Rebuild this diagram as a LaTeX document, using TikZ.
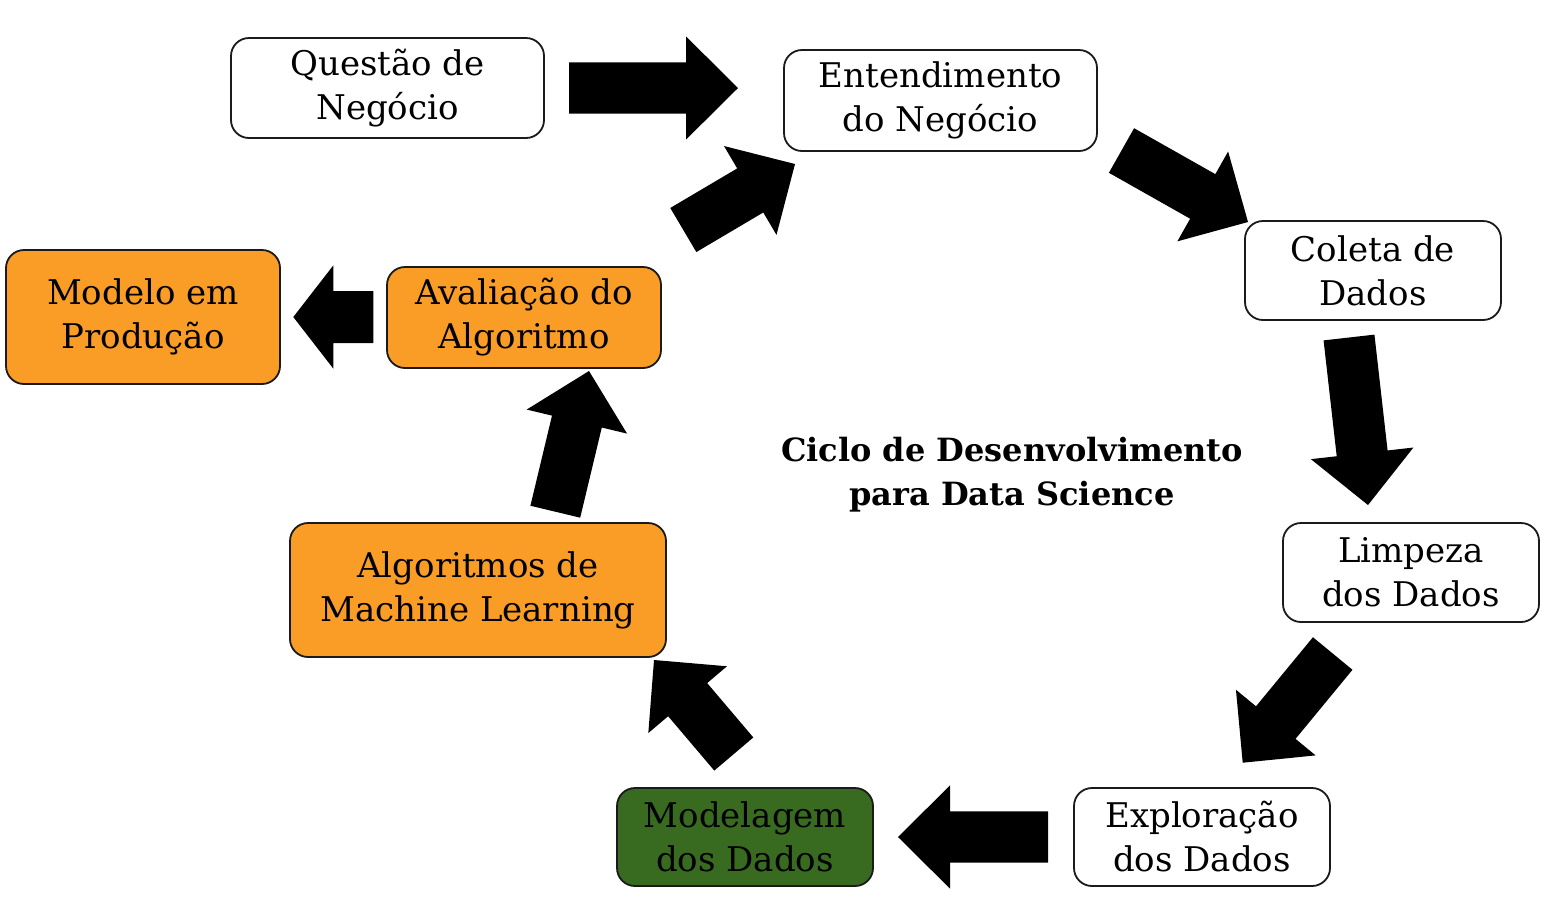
\documentclass[tikz,border=0pt]{standalone}
\usepackage{fontspec}
\setmainfont{DejaVu Serif}
\usetikzlibrary{calc}
\definecolor{boxorange}{HTML}{F99D27}
\definecolor{boxgreen}{HTML}{386A20}
\definecolor{boxline}{HTML}{1A1A1A}
\newcommand\blockarrow[5]{%
  \path coordinate (ahd) at ($(#2)!#5!(#1)$);
  \fill[black] ($(#1)!#3!90:(#2)$) -- ($(ahd)!#3!90:(#2)$) -- ($(ahd)!#4!90:(#2)$)
    -- (#2) -- ($(ahd)!#4!-90:(#2)$) -- ($(ahd)!#3!-90:(#2)$)
    -- ($(#1)!#3!-90:(#2)$) -- cycle;}
\tikzset{
  stage/.style={draw=boxline, line width=0.9pt, rounded corners=9pt, inner sep=0pt,
    align=center, font=\fontsize{17}{22}\selectfont},
  white stage/.style={stage, fill=white},
  orange stage/.style={stage, fill=boxorange},
  green stage/.style={stage, fill=boxgreen},
}
\begin{document}
\begin{tikzpicture}[x=0.5pt,y=-0.5pt]
\useasboundingbox[fill=white] (0,0) rectangle (1542,896);
% nodes
\node[white stage, minimum width=156.5pt, minimum height=50pt] (q) at (387.5,88) {Questão de\\Negócio};
\node[white stage, minimum width=156.5pt, minimum height=50.5pt] (e) at (940.5,100.5) {Entendimento\\do Negócio};
\node[white stage, minimum width=128pt, minimum height=49.5pt] (c) at (1373,270.5) {Coleta de\\Dados};
\node[white stage, minimum width=128pt, minimum height=49.5pt] (l) at (1411,572.5) {Limpeza\\dos Dados};
\node[white stage, minimum width=128pt, minimum height=49pt] (x) at (1202,837) {Exploração\\dos Dados};
\node[green stage, minimum width=128pt, minimum height=49pt] (m) at (745,837) {Modelagem\\dos Dados};
\node[orange stage, minimum width=188pt, minimum height=67pt] (ml) at (478,590) {Algoritmos de\\Machine Learning};
\node[orange stage, minimum width=137pt, minimum height=50.5pt] (av) at (524,317.5) {Avaliação do\\Algoritmo};
\node[orange stage, minimum width=137pt, minimum height=67pt] (mp) at (143,317) {Modelo em\\Produção};
\node[align=center, font=\bfseries\fontsize{16}{22}\selectfont] (title) at (1012,475) {Ciclo de Desenvolvimento\\para Data Science};
% arrow end points
\coordinate (t1) at (569,88);      \coordinate (p1) at (738,88);
\coordinate (t2) at (1121.5,150.5); \coordinate (p2) at (1248,222);
\coordinate (t3) at (1349,337.5);  \coordinate (p3) at (1368,505);
\coordinate (t4) at (1332.7,653.5); \coordinate (p4) at (1242.7,762.7);
\coordinate (t5) at (1048,837);    \coordinate (p5) at (898,837);
\coordinate (t6) at (733.8,754);   \coordinate (p6) at (654,660);
\coordinate (t7) at (555.3,511.7); \coordinate (p7) at (589,371);
\coordinate (t8) at (683.3,230);   \coordinate (p8) at (795,164);
\coordinate (t9) at (373.3,317);   \coordinate (p9) at (293.3,317);
\blockarrow{t1}{p1}{12.8pt}{25.8pt}{26pt}
\blockarrow{t2}{p2}{12.8pt}{25.8pt}{26pt}
\blockarrow{t3}{p3}{12.8pt}{25.8pt}{26pt}
\blockarrow{t4}{p4}{12.8pt}{25.8pt}{26pt}
\blockarrow{t5}{p5}{12.8pt}{25.8pt}{26pt}
\blockarrow{t6}{p6}{12.8pt}{25.8pt}{26pt}
\blockarrow{t7}{p7}{12.8pt}{25.8pt}{26pt}
\blockarrow{t8}{p8}{12.8pt}{25.8pt}{26pt}
\blockarrow{t9}{p9}{13pt}{25.8pt}{20pt}
\end{tikzpicture}
\end{document}
